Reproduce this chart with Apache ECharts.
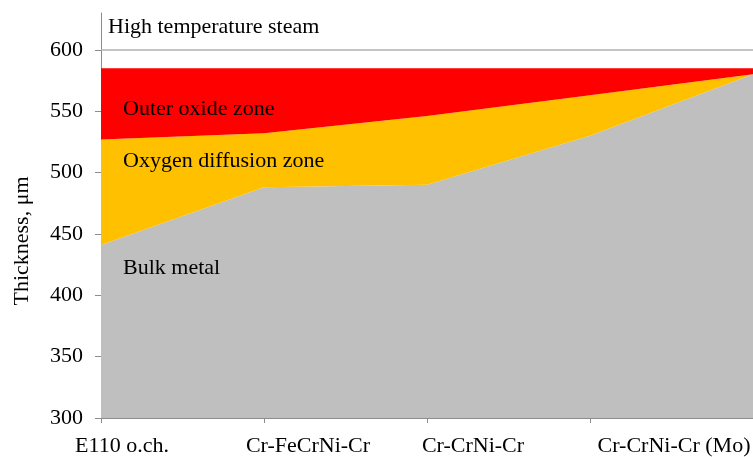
<!DOCTYPE html>
<html><head><meta charset="utf-8">
<script src="https://cdn.jsdelivr.net/npm/echarts@6/dist/echarts.min.js"></script>
<style>html,body{margin:0;padding:0;background:#fff}#c{width:753px;height:457px}</style>
</head><body><div id="c"></div>
<script>
const categories = ['E110 o.ch.', 'Cr-FeCrNi-Cr', 'Cr-CrNi-Cr', 'Cr-CrNi-Cr (Mo)', ''];
const bulkMetal = [441, 488, 490, 530, 580];
const oxygenDiffusion = [86, 44, 56, 33, 0];
const outerOxide = [58, 53, 39, 22, 5];
const yTicks = [300, 350, 400, 450, 500, 550, 600];
const zoneNames = ['Bulk metal', 'Oxygen diffusion zone', 'Outer oxide zone'];
const yTitle = 'Thickness, \u03bcm';
const chartTitle = 'High temperature steam';

const FONT = "'Liberation Serif', 'Times New Roman', serif";
const FS = 22;
const labelKeys = ['a', 'b', 'c', 'd', 'e'];
const richBase = {fontFamily: FONT, fontSize: FS, color: '#000'};

const chart = echarts.init(document.getElementById('c'), null, {renderer: 'canvas'});
const option = {
  animation: false,
  backgroundColor: '#fff',
  grid: {left: 101, right: 0, top: 13, bottom: 39, outerBoundsMode: 'none', containLabel: false},
  xAxis: {
    type: 'category',
    data: categories,
    boundaryGap: false,
    axisLine: {lineStyle: {color: '#8c8c8c', width: 1}},
    axisTick: {show: true, length: 5, lineStyle: {color: '#8c8c8c'}},
    axisLabel: {
      interval: 0, margin: 17, color: '#000', fontFamily: FONT, fontSize: FS, hideOverlap: false,
      formatter: (v, i) => '{' + labelKeys[i] + '|' + v + '}',
      rich: {
        a: Object.assign({padding: [0, 0, 0, 42]}, richBase),
        b: Object.assign({padding: [0, 0, 0, 88]}, richBase),
        c: Object.assign({padding: [0, 0, 0, 92]}, richBase),
        d: Object.assign({padding: [0, 0, 0, 168]}, richBase),
        e: richBase
      }
    },
    splitLine: {show: false}
  },
  yAxis: {
    type: 'value',
    min: 300, max: 630,
    axisLine: {show: true, lineStyle: {color: '#8c8c8c', width: 1}},
    axisTick: {show: true, length: 6, customValues: yTicks, lineStyle: {color: '#8c8c8c'}},
    axisLabel: {customValues: yTicks, margin: 18, color: '#000', fontFamily: FONT, fontSize: FS},
    splitLine: {show: false}
  },
  series: [
    {name: zoneNames[0], type: 'line', stack: 'z', data: bulkMetal, symbol: 'none',
     lineStyle: {width: 0}, areaStyle: {color: '#BFBFBF', opacity: 1}, itemStyle: {color: '#BFBFBF'}},
    {name: zoneNames[1], type: 'line', stack: 'z', data: oxygenDiffusion, symbol: 'none',
     lineStyle: {width: 0}, areaStyle: {color: '#FFC000', opacity: 1}, itemStyle: {color: '#FFC000'}},
    {name: zoneNames[2], type: 'line', stack: 'z', data: outerOxide, symbol: 'none',
     lineStyle: {width: 0}, areaStyle: {color: '#FF0000', opacity: 1}, itemStyle: {color: '#FF0000'},
     markLine: {silent: true, symbol: 'none', label: {show: false},
       lineStyle: {color: '#b0b0b0', type: 'solid', width: 1.5},
       data: [{yAxis: yTicks[yTicks.length - 1]}]}}
  ],
  graphic: [
    {type: 'text', z: 100, left: 108, top: 16, style: {text: chartTitle, font: FS + 'px ' + FONT, fill: '#000'}},
    {type: 'text', z: 100, left: 123, top: 98, style: {text: zoneNames[2], font: FS + 'px ' + FONT, fill: '#000'}},
    {type: 'text', z: 100, left: 123, top: 150, style: {text: zoneNames[1], font: FS + 'px ' + FONT, fill: '#000'}},
    {type: 'text', z: 100, left: 123, top: 257, style: {text: zoneNames[0], font: FS + 'px ' + FONT, fill: '#000'}},
    {type: 'text', z: 100, x: 22, y: 241, rotation: Math.PI / 2,
     style: {text: yTitle, font: FS + 'px ' + FONT, fill: '#000', align: 'center', verticalAlign: 'middle'}}
  ]
};
chart.setOption(option);
</script></body></html>
